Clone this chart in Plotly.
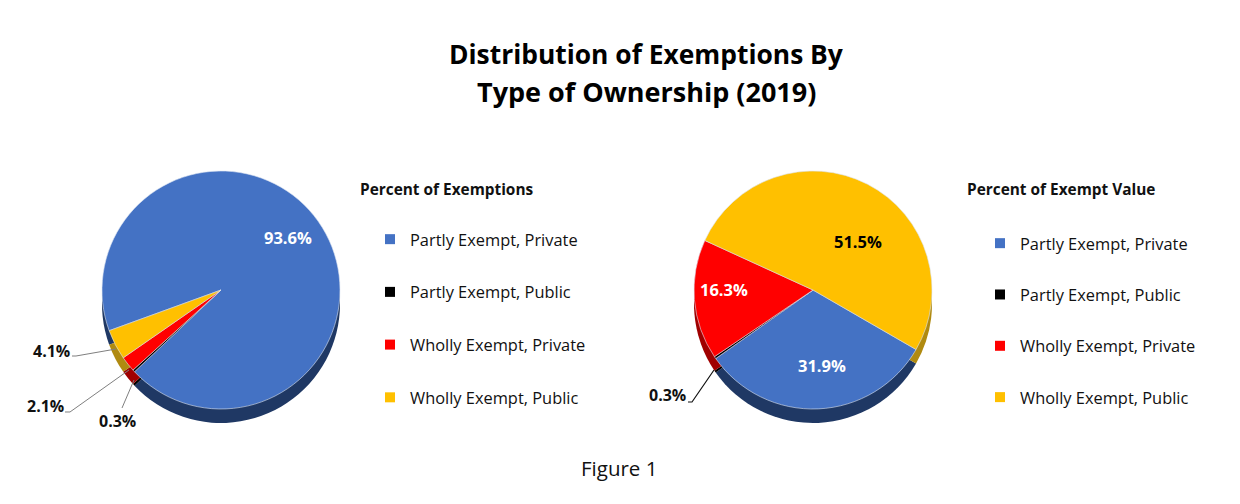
import plotly.graph_objects as go

W, H = 1240, 504

title_lines = ["Distribution of Exemptions By", "Type of Ownership (2019)"]
caption = "Figure 1"
categories = ["Partly Exempt, Private", "Partly Exempt, Public", "Wholly Exempt, Private", "Wholly Exempt, Public"]
exemptions_pct = [93.6, 0.3, 2.1, 4.1]
exempt_value_pct = [31.9, 0.3, 16.3, 51.5]
top_colors = ["#4472C4", "#000000", "#FF0000", "#FFC000"]
side_colors = ["#1F3864", "#000000", "#A00000", "#B08A10"]


def px(x):
    return x / W


def py(y):
    return 1 - y / H


def pie_domain(cx, cy, d):
    return dict(x=[px(cx - d / 2), px(cx + d / 2)], y=[py(cy + d / 2), py(cy - d / 2)])


DIAM = 238
DEPTH = 14
LEFT = (221, 290)
RIGHT = (813, 290)
FONT = "Open Sans, Noto Sans, sans-serif"
INK = "#111111"

fig = go.Figure()

for (cx, cy), vals, rot in [(LEFT, exemptions_pct, 250), (RIGHT, exempt_value_pct, 120)]:
    fig.add_trace(go.Pie(
        labels=categories, values=vals, sort=False, direction="clockwise", rotation=rot,
        domain=pie_domain(cx, cy + DEPTH, DIAM), marker=dict(colors=side_colors, line=dict(width=0)),
        textinfo="none", showlegend=False, hoverinfo="skip",
    ))
    fig.add_trace(go.Pie(
        labels=categories, values=vals, sort=False, direction="clockwise", rotation=rot,
        domain=pie_domain(cx, cy, DIAM),
        marker=dict(colors=top_colors, line=dict(color="#DCE4F2", width=0.6)),
        textinfo="none", showlegend=False,
    ))

# Legend entries, one independent group per category so the spacing can be opened up
for legend_id, suffix in [("legend", "a"), ("legend2", "b")]:
    for cat, col in zip(categories, top_colors):
        fig.add_trace(go.Scatter(
            x=[None], y=[None], mode="markers", name=cat, legend=legend_id,
            legendgroup=cat + suffix,
            marker=dict(symbol="square", size=10, color=col),
        ))


def legend_box(x, y, gap):
    return dict(
        x=px(x), y=py(y), xanchor="left", yanchor="top", bgcolor="rgba(0,0,0,0)",
        font=dict(family=FONT, size=16.4, color=INK),
        tracegroupgap=gap, itemwidth=30, itemclick=False, itemdoubleclick=False,
    )


def pct(v):
    return f"<b>{v}%</b>"


notes = [
    (f"<b>{title_lines[0]}</b>", 646, 54, 26.4, "black"),
    (f"<b>{title_lines[1]}</b>", 646, 91, 27, "black"),
    (caption, 619, 468, 20.5, INK),
    ("<b>Percent of Exemptions</b>", 447, 189, 15.4, INK),
    ("<b>Percent of Exempt Value</b>", 1061, 189, 15.4, INK),
    (pct(exemptions_pct[0]), 288, 237, 16.5, "white"),
    (pct(exemptions_pct[3]), 51, 351, 16, INK),
    (pct(exemptions_pct[2]), 45, 406, 16, INK),
    (pct(exemptions_pct[1]), 117, 421, 16, INK),
    (pct(exempt_value_pct[0]), 822, 365, 16.5, "white"),
    (pct(exempt_value_pct[1]), 667, 395, 16, INK),
    (pct(exempt_value_pct[2]), 724, 289, 16.5, "white"),
    (pct(exempt_value_pct[3]), 858, 241, 16.5, "black"),
]
annotations = [
    dict(text=t, x=px(x), y=py(y), xref="paper", yref="paper", showarrow=False,
         xanchor="center", yanchor="middle", font=dict(family=FONT, size=s, color=c))
    for t, x, y, s, c in notes
]


def leader(pts, color="#7F7F7F", width=1):
    path = "M " + " L ".join(f"{px(x):.5f},{py(y):.5f}" for x, y in pts)
    return dict(type="path", path=path, xref="paper", yref="paper", line=dict(color=color, width=width))


shapes = [
    leader([(72, 356), (76, 356), (116, 349)]),
    leader([(65, 412), (70, 412), (129, 370)]),
    leader([(122, 408), (134, 380)]),
    leader([(688, 402), (692, 402), (714, 370)], color=INK, width=1.2),
]

fig.update_layout(
    width=W, height=H, margin=dict(l=0, r=0, t=0, b=0),
    paper_bgcolor="white", plot_bgcolor="white",
    xaxis=dict(visible=False), yaxis=dict(visible=False),
    legend=legend_box(370, 222, 28.4), legend2=legend_box(980, 226, 27),
    annotations=annotations, shapes=shapes,
)

fig.write_html("out.html", config={"displayModeBar": False}, post_script="document.body.style.margin='0';")
